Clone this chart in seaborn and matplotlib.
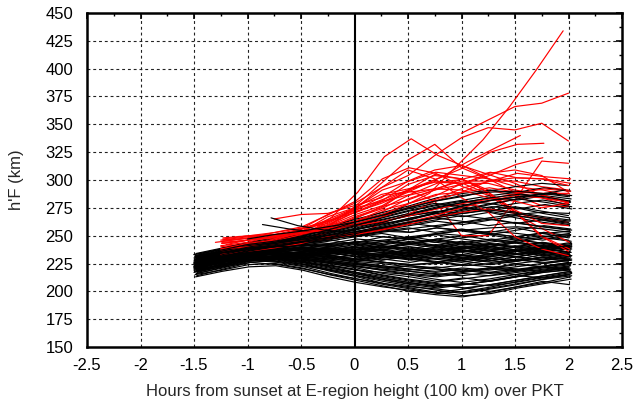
import numpy as np
import pandas as pd
import matplotlib
matplotlib.use("Agg")
import matplotlib.pyplot as plt
import seaborn as sns
from matplotlib.ticker import MultipleLocator

# ---------------- data ----------------
STEP = 0.25  # sampling interval in hours

# quiet nights (black)
black_h = [
    [226,231,237,236,240,238,242,239,244,241,245,242,240,244,239],
    [221,229,233,237,234,236,233,235,231,234,230,233,236,232,235],
    [229,234,236,241,239,243,244,249,247,252,250,254,252,249,251],
    [224,228,235,233,236,232,235,230,233,229,232,228,231,235,232],
    [219,226,230,234,231,229,233,228,231,226,229,232,228,233,230],
    [231,235,241,243,247,250,249,254,253,257,255,253,257,252,254],
    [227,232,234,238,236,239,235,238,240,237,241,238,236,239,235],
    [222,227,232,230,233,231,228,232,229,226,230,227,231,228,233],
    [225,233,236,240,243,241,245,242,247,244,240,243,239,242,238],
    [220,224,231,229,232,235,231,234,237,233,236,240,237,241,238],
    [228,231,238,236,235,238,234,231,235,232,228,231,234,230,227],
    [223,230,234,238,236,240,244,241,238,242,239,236,240,237,241],
    [232,236,241,246,244,243,247,245,243,247,250,246,249,253,250],
    [218,225,229,231,234,230,227,231,228,232,229,226,229,225,228],
    [226,229,236,234,238,242,239,243,247,244,248,251,247,250,246],
    [224,231,233,237,239,236,240,237,234,238,235,239,236,233,236],
    [230,233,240,242,239,237,241,245,242,239,243,240,237,240,244],
    [221,226,231,235,232,234,238,235,232,229,233,230,227,231,229],
    [227,234,237,236,240,238,235,239,242,246,243,240,244,241,237],
    [225,228,233,239,237,235,231,234,238,235,232,236,233,237,240],
    [222,229,235,233,230,233,236,233,230,227,224,228,225,222,226],
    [229,232,238,243,248,247,251,249,247,251,255,252,249,246,250],
    [223,227,234,236,233,237,234,231,235,239,236,233,237,234,231],
    [228,235,237,240,238,235,238,242,245,241,238,242,246,243,240],
    [220,227,232,231,235,233,237,240,236,233,237,234,231,235,238],
    [226,230,236,238,242,239,236,240,237,234,238,242,239,236,233],
    [224,232,234,239,236,240,243,239,243,247,243,240,244,248,245],
    [231,234,240,237,240,237,234,237,233,236,232,229,233,236,232],
    [219,223,230,232,229,232,235,238,234,237,240,237,234,238,235],
    [227,231,235,240,243,246,242,245,249,245,242,246,243,239,242],
    [225,230,237,235,232,235,231,228,232,229,226,230,227,230,234],
    [222,228,231,236,238,235,239,236,232,236,239,243,240,244,241],
    [229,236,240,245,243,247,252,256,253,257,254,251,255,259,256],
    [226,229,235,233,236,232,229,233,236,240,237,234,231,228,232],
    [221,225,233,235,232,236,240,237,240,236,233,237,241,238,235],
    [230,233,237,240,237,234,237,241,238,235,239,236,233,237,240],
    [224,229,234,232,235,238,235,232,229,233,230,234,238,235,239],
    [228,234,239,243,241,245,249,252,248,251,247,244,247,243,240],
    [223,227,232,230,227,230,233,229,226,230,227,224,227,231,228],
    [226,232,236,239,242,240,237,240,243,240,244,247,244,240,243],
    [230,236,240,244,248,252,258,262,268,271,275,272,276,272,268],
    [227,233,238,241,246,250,255,261,264,270,267,271,266,262,259],
    [232,237,243,246,250,256,261,267,273,278,282,286,289,293,290],
    [229,234,239,242,244,249,253,256,261,258,262,265,261,258,255],
    [233,238,244,248,253,257,263,269,275,281,285,290,294,297,295],
    [228,235,237,241,245,248,251,255,259,263,260,264,268,264,261],
    [231,236,241,245,249,254,260,265,270,276,280,284,282,286,283],
    [226,232,236,240,243,247,250,254,257,253,256,252,249,252,248],
    [234,239,243,247,252,258,265,271,277,284,288,291,288,284,280],
    [229,233,239,243,246,251,256,260,266,270,274,279,283,280,276],
    [227,233,238,240,244,247,252,257,262,266,263,259,262,258,255],
    [232,238,242,246,251,255,259,264,270,274,278,275,279,282,278],
    [230,235,240,243,247,252,257,263,268,272,270,274,271,267,264],
    [228,234,239,242,246,250,254,258,263,267,272,276,274,278,274],
    [225,231,236,239,243,246,251,256,260,264,268,265,261,264,260],
    [218,224,229,227,223,219,214,209,205,201,198,202,206,211,215],
    [214,220,226,228,224,218,213,207,203,199,196,198,203,207,211],
    [220,227,231,229,226,221,217,212,208,204,206,209,213,218,221],
    [216,221,227,229,226,223,219,214,210,207,203,200,204,208,213],
    [219,225,228,226,222,216,211,206,202,198,200,204,209,213,217],
    [223,228,232,231,228,224,220,215,211,208,211,214,218,222,225],
    [215,219,224,225,221,215,210,205,200,197,195,199,204,209,206],
    [221,226,230,232,229,225,221,216,213,209,212,209,213,217,220],
    [217,223,228,227,224,219,214,210,206,203,206,210,214,212,216],
    [222,227,231,233,230,227,223,219,215,211,208,211,215,219,222],
    [213,218,222,223,219,213,208,204,201,199,202,206,210,214,218],
    [220,224,229,230,227,222,217,213,209,206,203,206,210,214,218],
    [218,222,227,229,225,220,216,212,208,205,207,205,208,212,215],
    [224,229,233,234,231,228,225,221,218,215,218,221,225,228,230],
    [216,222,226,224,220,215,211,207,204,202,199,203,207,211,214],
    [221,227,232,233,231,229,227,225,222,220,218,221,219,222,220],
    [224,229,233,235,232,230,226,223,220,217,220,217,215,218,221],
    [219,224,229,230,228,225,222,219,216,214,217,220,218,221,224],
    [226,231,235,236,233,231,228,226,223,221,224,222,220,223,226],
    [222,228,232,231,229,226,223,220,218,216,214,217,220,218,222],
    [225,230,234,233,230,227,224,222,219,222,219,216,219,222,219],
    [220,226,229,231,229,226,224,221,223,220,218,221,224,222,225],
    [223,228,231,234,232,228,225,223,220,218,221,219,222,225,228],
    [218,225,228,229,226,223,219,217,215,213,216,214,217,220,223],
    [227,232,235,236,234,232,229,226,224,226,223,225,228,226,229],
    [260,256,253,254,258,263,268,274,280,283,286,288],
    [266,259,255,253,256,261,266,272,277,282,287,291],
    [247,251,254,258,262,268,275,281,286,289,290,288,285],
    [231,236,241,244,248,253,259,266,272,277,281,279,275,270,266],
    [229,235,240,243,247,251,256,262,269,275,280,284,287,285,281],
    [233,237,242,245,249,255,262,268,274,279,276,272,268,265,262],
    [227,232,237,241,245,249,254,259,265,271,277,282,285,288,286],
    [230,235,239,242,245,248,252,257,262,266,270,273,270,266,263],
    [226,231,236,240,244,247,250,253,256,259,262,266,269,271,270],
    [221,227,232,234,233,231,229,226,224,225,228,232,236,239,241],
    [217,222,228,230,227,222,216,211,207,205,206,209,213,217,219],
    [228,233,238,240,241,242,244,246,249,252,255,257,258,256,253],
    [224,230,234,237,238,237,235,233,232,233,236,240,245,249,252],
]
black_starts = ([-1.50, -1.49, -1.48, -1.47, -1.50, -1.485, -1.475, -1.495, -1.48, -1.47] * 8
                + [-0.86, -0.78, -1.0]
                + [-1.49, -1.48, -1.50, -1.47, -1.485, -1.495, -1.47, -1.50, -1.48, -1.49])

# nights with spread F (red)
red_h = [
    [244,247,249,252,255,259,264,276,288,312,336,366,399,434],
    [233,238,244,250,266,289,321,337,322,312,300],
    [240,243,246,252,258,276,297,318,332,311,301,289,284,277],
    [342,354,366,369,378],
    [236,241,248,256,269,279,293,304,322,338,347,345,351,335],
    [242,247,250,257,264,276,282,293,302,316,328,340],
    [234,238,244,250,263,273,286,290,301,311,325,332,333],
    [246,249,251,256,261,273,282,291,281,250,250,282,317,315],
    [239,243,249,254,265,275,291,299,307,304,301,294,291,286],
    [235,240,243,250,259,271,281,296,304,301,291,286,277,276],
    [247,250,253,257,264,271,281,287,297,301,307,302,301,297],
    [233,237,240,246,255,266,274,286,292,299,299,299,294,291],
    [245,248,253,258,269,281,301,311,306,294,286,269,256,244],
    [236,240,245,249,259,265,276,282,291,296,306,309,304,289],
    [243,246,249,254,259,269,277,291,299,297,287,271,249,238],
    [232,236,240,245,253,263,271,283,291,301,289,271,249,236],
    [265,269,270,277,284,299,309,313,305,297,286,281],
    [241,244,250,254,263,274,293,309,301,284,271,249,238,232],
    [249,261,269,281,289,299,302,301,295],
    [238,243,246,253,260,271,279,289,292,291,284,281,275,279],
    [244,246,249,252,258,263,273,279,287,289,293,289,288,288],
    [237,242,245,251,257,267,275,291,305,301,289,273,261,259],
    [248,250,251,254,257,261,267,276,283,293,299,306,303,301],
    [235,240,247,253,267,275,287,292,298,297,297,291,287,279],
    [243,246,248,252,255,263,269,279,286,297,304,314,320],
    [233,236,239,243,249,252,256,262,268,275,281,286,284,280],
    [246,248,251,253,255,259,263,268,274,279,283,288,292,290],
    [238,240,242,245,247,251,255,260,266,271,274,270,266,262],
]
red_starts = [-1.30, -1.22, -1.25, 1.0, -1.25, -1.2, -1.23, -1.25, -1.24, -1.25,
              -1.23, -1.25, -1.24, -1.25, -1.24, -1.25, -0.75, -1.25, 0.0, -1.25,
              -1.24, -1.25, -1.23, -1.25, -1.24, -1.25, -1.23, -1.25]

x_ticks = [-2.5, -2, -1.5, -1, -0.5, 0, 0.5, 1, 1.5, 2, 2.5]
y_ticks = [150, 175, 200, 225, 250, 275, 300, 325, 350, 375, 400, 425, 450]

# ---------------- long table ----------------
rows = []
colors = {}
black_ids, red_ids = [], []
uid = 0
for group, starts, series, col, idlist in (
        ("quiet", black_starts, black_h, "black", black_ids),
        ("spread", red_starts, red_h, "#ff0000", red_ids)):
    for s, vals in zip(starts, series):
        for k, v in enumerate(vals):
            rows.append({"id": uid, "group": group, "hour": s + STEP * k, "hF": v})
        colors[uid] = col
        idlist.append(uid)
        uid += 1
df = pd.DataFrame(rows)

# drawing order: red nights interleaved among the black ones
order = []
ri = 0
for i, b in enumerate(black_ids):
    order.append(b)
    if i % 3 == 2 and ri < len(red_ids):
        order.append(red_ids[ri])
        ri += 1
order += red_ids[ri:]

# ---------------- plot ----------------
sns.set_style("white")
plt.rcParams["font.family"] = ["Liberation Sans", "DejaVu Sans"]
plt.rcParams["font.size"] = 12

fig, ax = plt.subplots(figsize=(6.38, 4.04), dpi=100)
fig.subplots_adjust(left=87/638, right=622/638, bottom=1-347/404, top=1-13/404)

ax.set_xlim(-2.5, 2.5)
ax.set_ylim(150, 450)
ax.set_xticks(x_ticks)
ax.set_yticks(y_ticks)
ax.set_xticklabels([f"{t:g}" for t in x_ticks])
ax.set_yticklabels([f"{t:g}" for t in y_ticks])
ax.xaxis.set_minor_locator(MultipleLocator(0.25))
ax.yaxis.set_minor_locator(MultipleLocator(12.5))

# dashed grid
for t in x_ticks[1:-1]:
    if t != 0:
        ax.axvline(t, color="#222222", lw=0.8, ls=(0, (2.6, 2.6)), zorder=0)
for t in y_ticks[1:-1]:
    ax.axhline(t, color="#222222", lw=0.8, ls=(0, (2.6, 2.6)), zorder=0)

sns.lineplot(data=df, x="hour", y="hF", hue="id", hue_order=order,
             palette=colors, estimator=None, lw=0.85, legend=False,
             ax=ax, sort=False, zorder=2)

ax.axvline(0, color="black", lw=1.5, zorder=3)

for sp in ax.spines.values():
    sp.set_visible(True)
    sp.set_linewidth(1.8)
    sp.set_color("black")

ax.tick_params(which="both", direction="in", top=True, right=True,
               labelsize=12, colors="black")
ax.tick_params(axis="y", which="major", pad=10)
ax.tick_params(axis="x", which="major", pad=8)
ax.tick_params(which="major", length=4, width=1.2)
ax.tick_params(which="minor", length=2.5, width=1.0)

ax.set_xlabel("Hours from sunset at E-region height (100 km) over PKT", fontsize=12, labelpad=8)
ax.set_ylabel("h'F (km)", fontsize=12, labelpad=15)

fig.savefig("out.png", dpi=100)
